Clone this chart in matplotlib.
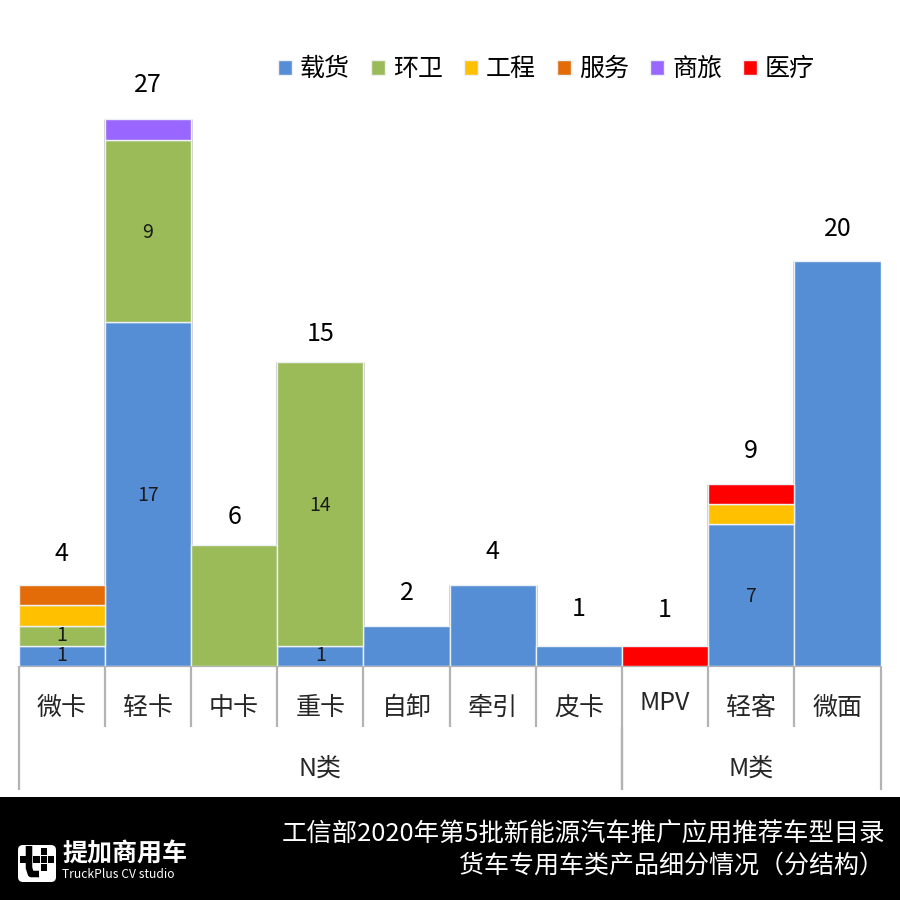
#!/usr/bin/env python3
"""Stacked bars of recommended new-energy trucks by type, with footer band."""
import matplotlib
matplotlib.use("Agg")
import matplotlib.pyplot as plt
from matplotlib.patches import Rectangle, FancyBboxPatch

plt.rcParams["font.family"] = ["Noto Sans CJK SC", "DejaVu Sans"]

categories = ["微卡", "轻卡", "中卡", "重卡", "自卸", "牵引", "皮卡", "MPV", "轻客", "微面"]
series_names = ["载货", "环卫", "工程", "服务", "商旅", "医疗"]
cargo = [1, 17, 0, 1, 2, 4, 1, 0, 7, 20]
sanitation = [1, 9, 6, 14, 0, 0, 0, 0, 0, 0]
engineering = [1, 0, 0, 0, 0, 0, 0, 0, 1, 0]
service = [1, 0, 0, 0, 0, 0, 0, 0, 0, 0]
business = [0, 1, 0, 0, 0, 0, 0, 0, 0, 0]
medical = [0, 0, 0, 0, 0, 0, 0, 1, 1, 0]
totals = [4, 27, 6, 15, 2, 4, 1, 1, 9, 20]
# which segments carry a value label: (category index, series index)
labelled = [(0, 0), (0, 1), (1, 0), (1, 1), (3, 0), (3, 1), (8, 0)]
groups = [("N类", 0, 7), ("M类", 7, 10)]
colors = ["#558ed5", "#9bbb59", "#ffc000", "#e36c09", "#9966ff", "#ff0000"]
title_lines = ["工信部2020年第5批新能源汽车推广应用推荐车型目录",
               "货车专用车类产品细分情况（分结构）"]
# gap in pixels between bar top and the centre of its total label
total_gap = [31, 34, 28, 28, 33, 33, 37, 36, 33, 32]

W, H = 900, 900
LEFT, RIGHT, BASE = 18.6, 880.6, 666
PX_PER_UNIT = 20.25

fig = plt.figure(figsize=(9, 9), dpi=100, facecolor="white")

# overlay in pixel coordinates for the category table and the footer
deco = fig.add_axes([0, 0, 1, 1], zorder=0)
deco.set_xlim(0, W); deco.set_ylim(H, 0); deco.axis("off")

ax = fig.add_axes([LEFT / W, (H - BASE) / H, (RIGHT - LEFT) / W, BASE / H], zorder=1)
ax.patch.set_alpha(0)
ax.set_xlim(0, len(categories)); ax.set_ylim(0, BASE / PX_PER_UNIT)
ax.axis("off")

xs = [i + 0.5 for i in range(len(categories))]
values = [cargo, sanitation, engineering, service, business, medical]

# faint grey shadow down both sides of each stack
ax.vlines([x - 0.5 for x in xs], 0, totals, color="#c8c8c8", lw=2.0, zorder=1)
ax.vlines([x + 0.5 for x in xs], 0, totals, color="#c8c8c8", lw=2.0, zorder=1)

bottom = [0] * len(categories)
for name, vals, col in zip(series_names, values, colors):
    keep = [i for i, v in enumerate(vals) if v > 0]
    ax.bar([xs[i] for i in keep], [vals[i] for i in keep], 1.0,
           bottom=[bottom[i] for i in keep], color=col, edgecolor="#edf1f6", lw=1.0,
           label=name, zorder=2)
    for i, v in enumerate(vals):
        if (i, series_names.index(name)) in labelled:
            ax.annotate(str(v), (xs[i], bottom[i] + v / 2), xytext=(0, -1 if v > 1 else 0),
                        textcoords="offset points", ha="center", va="center",
                        fontsize=14, color="#1a1a1a", zorder=3)
    bottom = [b + v for b, v in zip(bottom, vals)]

for x, t, gap in zip(xs, totals, total_gap):
    ax.annotate(str(t), (x, t), xytext=(0, gap * 0.72), textcoords="offset points",
                ha="center", va="center", fontsize=18, color="black", zorder=3)

ax.legend(loc="center left", bbox_to_anchor=(278 / W, 1 - 69 / H), bbox_transform=fig.transFigure,
          ncol=6, frameon=False, fontsize=18, handlelength=0.56, handleheight=0.56,
          handletextpad=0.32, columnspacing=0.84, borderpad=0, borderaxespad=0)

# category table under the axis
step = (RIGHT - LEFT) / len(categories)
line = dict(color="#b3b3b3", lw=1.6, solid_capstyle="butt")
deco.plot([LEFT, RIGHT], [BASE, BASE], **line)
for i in range(len(categories) + 1):
    deco.plot([LEFT + i * step] * 2, [BASE, 727], **line)
for name, a, b in groups:
    deco.plot([LEFT + a * step] * 2, [727, 790], **line)
    deco.plot([LEFT + b * step] * 2, [727, 790], **line)
    deco.text(LEFT + (a + b) / 2 * step, 769, name, ha="center", va="center",
              fontsize=18, color="#262626")
for i, c in enumerate(categories):
    deco.text(LEFT + (i + 0.5) * step, 703 if c == "MPV" else 708, c, ha="center", va="center",
              fontsize=18, color="#262626")

# footer band
deco.add_patch(Rectangle((0, 797), W, H - 797, color="black", lw=0))
deco.text(885, 835, title_lines[0], ha="right", va="center", fontsize=18.3, color="white")
deco.text(884, 866, title_lines[1], ha="right", va="center", fontsize=18, color="white")
deco.text(62, 855, "提加商用车", ha="left", va="center", fontsize=18, fontweight="bold", color="white")
deco.text(62, 875, "TruckPlus CV studio", ha="left", va="center", fontsize=8.7, color="white")

# logo mark
deco.add_patch(FancyBboxPatch((21, 848), 32, 31, boxstyle="round,pad=3,rounding_size=5",
                              color="white", lw=0))
deco.plot([29, 29, 31, 39], [846, 868, 874, 874], color="black", lw=4.7,
          solid_joinstyle="round", solid_capstyle="butt")
for x0, y0, w, h in [(20, 856, 12, 7), (33, 856, 7, 7), (41, 856, 6, 7), (48, 856, 6, 7),
                     (41, 848, 6, 7), (41, 864, 6, 7)]:
    deco.add_patch(Rectangle((x0, y0), w, h, color="black", lw=0))

fig.savefig("out.png", dpi=100)
